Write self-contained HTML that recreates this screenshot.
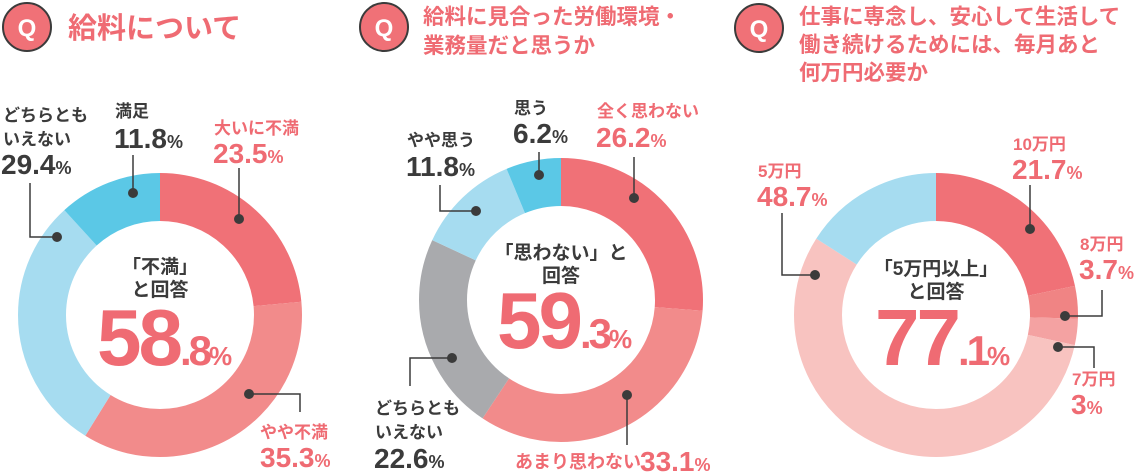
<!DOCTYPE html>
<html><head><meta charset="utf-8"><style>
html,body{margin:0;padding:0;background:#fff;}
svg{display:block;}
text{font-family:"Liberation Sans","Noto Sans CJK JP",sans-serif;font-weight:bold;}
.d{fill:#3b3b3b}.r{fill:#ef6b73}
</style></head><body>
<svg width="1137" height="474" viewBox="0 0 1137 474" xmlns="http://www.w3.org/2000/svg">
<!-- titles -->
<circle cx="27" cy="27" r="24" fill="#f07177" stroke="#3b3b3b" stroke-width="2"/>
<text x="27" y="36" font-size="24" fill="#fff" text-anchor="middle">Q</text>
<text x="68" y="38" font-size="29" class="r">給料について</text>

<circle cx="384" cy="27" r="24" fill="#f07177" stroke="#3b3b3b" stroke-width="2"/>
<text x="384" y="36" font-size="24" fill="#fff" text-anchor="middle">Q</text>
<text x="423" y="24" font-size="21.5" class="r">給料に見合った労働環境・</text>
<text x="423" y="53" font-size="21.5" class="r">業務量だと思うか</text>

<circle cx="759" cy="28" r="24" fill="#f07177" stroke="#3b3b3b" stroke-width="2"/>
<text x="759" y="37" font-size="24" fill="#fff" text-anchor="middle">Q</text>
<text x="799" y="24" font-size="21.5" class="r">仕事に専念し、安心して生活して</text>
<text x="799" y="52" font-size="21.5" class="r">働き続けるためには、毎月あと</text>
<text x="799" y="80" font-size="21.5" class="r">何万円必要か</text>

<!-- chart 1 -->
<g transform="translate(160,315) rotate(-90)" fill="none" stroke-width="48">
<circle r="118" stroke="#f07177" stroke-dasharray="174.2 1000" stroke-dashoffset="0"/>
<circle r="118" stroke="#f28b8b" stroke-dasharray="261.7 1000" stroke-dashoffset="-174.2"/>
<circle r="118" stroke="#a6dcf0" stroke-dasharray="218 1000" stroke-dashoffset="-435.9"/>
<circle r="118" stroke="#5bc8e6" stroke-dasharray="87.5 1000" stroke-dashoffset="-653.9"/>
</g>
<text x="160" y="273" font-size="19" class="d" text-anchor="middle">「不満」</text>
<text x="160" y="296" font-size="19" class="d" text-anchor="middle">と回答</text>
<text x="97" y="365" font-size="80" class="r" letter-spacing="-3">58<tspan font-size="42">.8</tspan><tspan font-size="26">%</tspan></text>
<g stroke="#3b3b3b" stroke-width="1.5" fill="none">
<polyline points="133,155 133,193"/><polyline points="239,168 239,219"/>
<polyline points="30,183 30,237 57,237"/><polyline points="249,394 300,394 300,412"/>
</g>
<g fill="#3b3b3b"><circle cx="133" cy="193" r="5"/><circle cx="239" cy="219" r="5"/><circle cx="57" cy="237" r="5"/><circle cx="249" cy="394" r="5"/></g>
<text x="3" y="121" font-size="17" class="d">どちらとも</text>
<text x="3" y="145" font-size="17" class="d">いえない</text>
<text x="1" y="174" font-size="28" class="d">29.4<tspan font-size="18">%</tspan></text>
<text x="115" y="117" font-size="17" class="d">満足</text>
<text x="114" y="148" font-size="28" class="d">11.8<tspan font-size="18">%</tspan></text>
<text x="214" y="134" font-size="17" class="r">大いに不満</text>
<text x="213" y="163" font-size="28" class="r">23.5<tspan font-size="18">%</tspan></text>
<text x="260" y="438" font-size="17" class="r">やや不満</text>
<text x="260" y="467" font-size="28" class="r">35.3<tspan font-size="18">%</tspan></text>

<!-- chart 2 -->
<g transform="translate(561,300) rotate(-90)" fill="none" stroke-width="48">
<circle r="118" stroke="#f07177" stroke-dasharray="194.2 1000" stroke-dashoffset="0"/>
<circle r="118" stroke="#f28b8b" stroke-dasharray="245.4 1000" stroke-dashoffset="-194.2"/>
<circle r="118" stroke="#a9aaad" stroke-dasharray="167.6 1000" stroke-dashoffset="-439.6"/>
<circle r="118" stroke="#a6dcf0" stroke-dasharray="87.5 1000" stroke-dashoffset="-607.2"/>
<circle r="118" stroke="#5bc8e6" stroke-dasharray="46.7 1000" stroke-dashoffset="-694.7"/>
</g>
<text x="561" y="259" font-size="19" class="d" text-anchor="middle">「思わない」と</text>
<text x="561" y="282" font-size="19" class="d" text-anchor="middle">回答</text>
<text x="497" y="348" font-size="80" class="r" letter-spacing="-3">59<tspan font-size="42">.3</tspan><tspan font-size="26">%</tspan></text>
<g stroke="#3b3b3b" stroke-width="1.5" fill="none">
<polyline points="539,152 539,175"/><polyline points="634,157 634,198"/>
<polyline points="440,185 440,211 476,211"/><polyline points="452,358 410,358 410,386"/>
<polyline points="627,395 627,445"/>
</g>
<g fill="#3b3b3b"><circle cx="539" cy="175" r="5"/><circle cx="634" cy="198" r="5"/><circle cx="476" cy="211" r="5"/><circle cx="452" cy="358" r="5"/><circle cx="627" cy="395" r="5"/></g>
<text x="514" y="114" font-size="17" class="d">思う</text>
<text x="513" y="143" font-size="28" class="d">6.2<tspan font-size="18">%</tspan></text>
<text x="597" y="117" font-size="17" class="r">全く思わない</text>
<text x="596" y="147" font-size="28" class="r">26.2<tspan font-size="18">%</tspan></text>
<text x="407" y="146" font-size="17" class="d">やや思う</text>
<text x="406" y="176" font-size="28" class="d">11.8<tspan font-size="18">%</tspan></text>
<text x="375" y="414" font-size="17" class="d">どちらとも</text>
<text x="375" y="438" font-size="17" class="d">いえない</text>
<text x="374" y="468" font-size="28" class="d">22.6<tspan font-size="18">%</tspan></text>
<text x="515" y="468" font-size="18" class="r">あまり思わない</text>
<text x="640" y="471" font-size="28" class="r">33.1<tspan font-size="18">%</tspan></text>

<!-- chart 3 -->
<g transform="translate(936,315) rotate(-90)" fill="none" stroke-width="48">
<circle r="118" stroke="#f07177" stroke-dasharray="160.9 1000" stroke-dashoffset="0"/>
<circle r="118" stroke="#f08484" stroke-dasharray="27.4 1000" stroke-dashoffset="-160.9"/>
<circle r="118" stroke="#f4a2a2" stroke-dasharray="22.2 1000" stroke-dashoffset="-188.3"/>
<circle r="118" stroke="#f8c3c0" stroke-dasharray="412.3 1000" stroke-dashoffset="-210.5"/>
<circle r="118" stroke="#a6dcf0" stroke-dasharray="118.6 1000" stroke-dashoffset="-622.8"/>
</g>
<text x="936" y="275" font-size="19" class="d" text-anchor="middle">「5万円以上」</text>
<text x="936" y="298" font-size="19" class="d" text-anchor="middle">と回答</text>
<text x="875" y="365" font-size="80" class="r" letter-spacing="-3">77<tspan font-size="42">.1</tspan><tspan font-size="26">%</tspan></text>
<g stroke="#3b3b3b" stroke-width="1.5" fill="none">
<polyline points="1030,185 1030,229"/><polyline points="1065,316 1102,316 1102,290"/>
<polyline points="1058,347 1094,347 1094,368"/><polyline points="782,213 782,275 815,275"/>
</g>
<g fill="#3b3b3b"><circle cx="1030" cy="229" r="5"/><circle cx="1065" cy="316" r="5"/><circle cx="1058" cy="347" r="5"/><circle cx="815" cy="275" r="5"/></g>
<text x="1013" y="150" font-size="17" class="r">10万円</text>
<text x="1012" y="179" font-size="28" class="r">21.7<tspan font-size="18">%</tspan></text>
<text x="1080" y="250" font-size="17" class="r">8万円</text>
<text x="1079" y="279" font-size="28" class="r">3.7<tspan font-size="18">%</tspan></text>
<text x="1072" y="385" font-size="17" class="r">7万円</text>
<text x="1071" y="414" font-size="28" class="r">3<tspan font-size="18">%</tspan></text>
<text x="758" y="177" font-size="17" class="r">5万円</text>
<text x="757" y="206" font-size="28" class="r">48.7<tspan font-size="18">%</tspan></text>
</svg>
</body></html>
